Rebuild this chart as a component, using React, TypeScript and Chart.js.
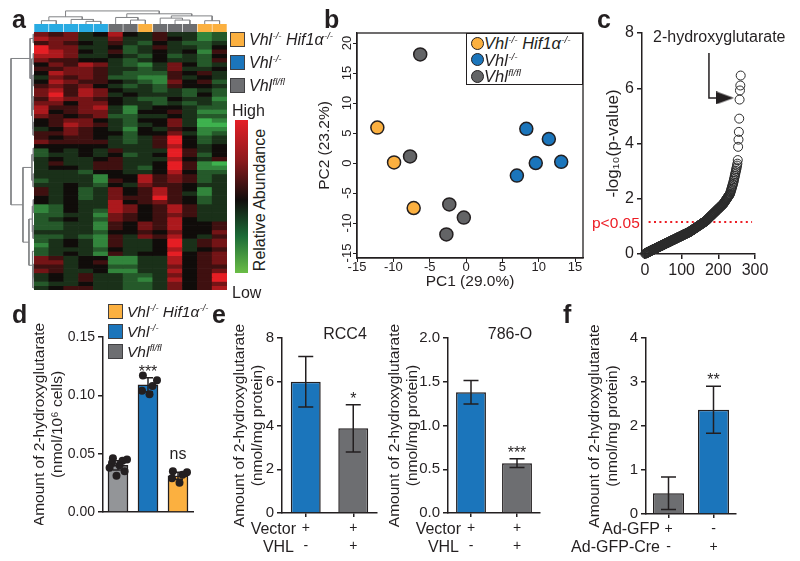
import React, { useEffect, useRef } from 'react';
import { Chart, registerables } from 'chart.js';

Chart.register(...registerables);

const W = 800;
const H = 561;
const FONT = "'Liberation Sans', Arial, Helvetica, sans-serif";
Chart.defaults.font.family = FONT;
Chart.defaults.color = '#231F20';

const INK = '#231F20';
const BLUE = '#1B75BB';
const ORANGE = '#FBB040';
const GRAY = '#6D6E71';
const GRAY_LIGHT = '#939598';
const PCA_GRAY = '#636466';
const CYAN = '#29ABE2';
const RED = '#ED1C24';
const DENDRO = '#808285';

/* ---------------- panel a: heat map ---------------- */
const sampleGroups = [
  'Vhl-/-', 'Vhl-/-', 'Vhl-/-', 'Vhl-/-', 'Vhl-/-',
  'Vhl fl/fl', 'Vhl fl/fl', 'Vhl-/- Hif1α-/-',
  'Vhl fl/fl', 'Vhl fl/fl', 'Vhl fl/fl',
  'Vhl-/- Hif1α-/-', 'Vhl-/- Hif1α-/-',
];
const groupColors: Record<string, string> = {
  'Vhl-/-': CYAN,
  'Vhl fl/fl': GRAY,
  'Vhl-/- Hif1α-/-': ORANGE,
};

// relative abundance (-4 = low/green, +4 = high/red), one row per metabolite block
const heatRows: number[][] = [
  [2, 1, 2, -1, 0, 3, 0, -1, 1, -1, -1, -3, -2],
  [3, 2, 2, -1, -1, 2, -1, -1, 1, 0, -1, -3, -2],
  [1, 2, 1, 0, -1, 1, -1, -2, 0, -1, -2, -2, -1],
  [4, 2, 2, -1, -1, 0, -2, -1, 1, -1, -1, -2, 0],
  [4, 3, 2, 0, -1, 1, -2, -1, 0, -1, 0, -3, 1],
  [3, 3, 2, -1, -1, 0, -1, -2, 0, -2, -1, -2, 0],
  [2, 1, 1, 0, 0, -1, -2, -1, 0, -1, -1, -2, 1],
  [0, 2, 1, 3, 2, -1, -2, -3, -1, 2, 0, -2, -1],
  [1, 1, 2, 2, 1, -1, -1, -2, -1, 2, -1, -1, 0],
  [0, 3, 2, 2, 1, -1, -2, -2, -2, 1, 0, 1, -1],
  [-1, 2, 1, 2, 1, -2, -2, -3, -3, 1, -1, 0, -1],
  [0, 3, 2, 1, 1, 0, -1, -2, -3, 2, 0, 1, -2],
  [1, 2, 1, 2, 0, -1, -2, -1, -2, 1, 0, 0, -1],
  [2, 3, 1, 3, 2, 0, -1, -1, -2, -1, -2, -1, -2],
  [2, 4, 1, 3, 2, -1, 0, -1, -1, -1, -2, 0, -2],
  [1, 3, 2, 2, 1, 0, -1, -2, -2, 0, -1, -1, -3],
  [2, 2, 0, 2, 2, 0, -1, -1, -2, -1, -2, -1, -2],
  [3, 1, 1, 2, 3, -1, -3, -1, 0, 0, -1, -2, -2],
  [3, 0, 1, 2, 2, -1, -3, 0, 0, 1, -1, -3, -3],
  [2, 1, 0, 1, 2, -2, -2, -1, -1, 0, -1, -2, -2],
  [0, 1, 2, 2, 0, -1, -2, 0, 0, 2, -1, -4, -3],
  [0, 1, 3, 2, 1, -1, -2, -1, 0, 2, -1, -4, -4],
  [-1, 0, 2, 1, 0, -1, -3, 0, -1, 1, 0, -3, -3],
  [1, 1, 2, 1, 0, 0, -2, 0, 0, 2, -1, -3, -2],
  [1, 0, 1, 1, 0, -1, -2, -1, 1, 4, 0, -2, -1],
  [2, 1, 1, 1, 1, -1, -2, -1, 1, 4, 0, -2, -1],
  [0, 0, 0, 0, 0, -1, -1, -1, 1, 3, 0, -1, 0],
  [-2, 0, -1, 0, -1, 1, -1, -1, -1, 4, 1, -1, 0],
  [-2, -1, -1, 0, -1, 0, -2, -1, 0, 4, 1, -2, 0],
  [-1, 0, -1, -1, 0, 1, -1, -1, -1, 3, 0, -1, 1],
  [-1, 1, -1, -1, 1, 1, -1, -1, 0, 4, 1, -3, -4],
  [-1, 0, 0, -1, 1, 1, -1, -2, 0, 4, 1, -3, -3],
  [-1, -1, -1, -2, 0, 0, -1, -1, 0, 3, 0, -2, -2],
  [-1, -1, -1, -1, -3, 0, 0, 3, 1, 2, 1, -2, -1],
  [-2, -1, -1, -1, -3, 1, 0, 3, 1, 2, 1, -2, -1],
  [-1, -1, 0, -1, -2, 0, -1, 2, 1, 1, 0, -1, -1],
  [1, -1, 0, -2, -1, 2, 0, 1, 3, 1, 0, -3, -1],
  [1, -1, 0, -2, -1, 2, 0, 1, 3, 1, -1, -3, -1],
  [0, -1, 0, -2, -1, 2, 1, 1, 4, 1, 0, -2, -1],
  [0, -1, 0, -1, -1, 3, 0, 1, 2, 1, 0, -2, -1],
  [-3, -2, 0, -1, -1, 3, 2, 0, 1, 3, 1, -1, -1],
  [-3, -2, 0, -1, -2, 3, 2, 0, 1, 3, 1, -1, -1],
  [-2, -2, -1, -1, -3, 2, 1, 0, 1, 2, 1, -1, -1],
  [-2, -1, 0, -1, -2, 2, 1, 0, 1, 3, 0, -1, -1],
  [-2, -2, -1, -1, -3, 1, 0, 2, 1, 3, 0, 0, 1],
  [-2, -2, -1, -1, -3, 1, 0, 2, 1, 3, 0, 0, 1],
  [-1, -1, -1, -1, -2, 0, 0, 1, 0, 2, 0, 0, 2],
  [-2, -2, -1, -2, -3, 1, -1, 2, 1, 3, 0, -1, 1],
  [-2, -1, 0, -1, -3, 1, -1, -1, 0, 4, -1, 1, 2],
  [-3, -1, 0, -1, -3, 1, -1, -1, 0, 4, -1, 1, 2],
  [-2, -1, -1, -1, -2, 0, -1, -1, 0, 3, -1, 0, 1],
  [-2, -1, 0, -1, -3, 1, -1, 0, 0, 4, 0, 1, 2],
  [2, 1, -1, 0, 0, -3, -3, -1, -1, 3, 0, 1, 2],
  [2, 2, -1, 0, 1, -3, -3, -1, -1, 3, 0, 1, 2],
  [1, 1, -1, 0, 0, -2, -2, -1, -1, 2, 0, 1, 1],
  [2, 1, -1, -1, 0, -3, -3, -1, -1, 3, 0, 1, 2],
  [-1, 0, -1, 1, -1, -1, -2, -2, -1, 2, 0, 1, 4],
  [-1, 0, -1, 1, -1, -1, -2, -3, -1, 3, 0, 1, 4],
  [-2, -1, -1, 0, -1, -1, -2, -2, -1, 2, 0, 1, 2],
  [-1, 0, 1, 1, -1, -1, -2, -2, -1, 2, 0, 1, 3],
];

// column dendrogram: [childA, childB, height]; leaves are columns 0..12
const colMerges: number[][] = [
  [0, 1, 0.25], [3, 4, 0.2], [2, 14, 0.35], [13, 15, 0.55],
  [6, 7, 0.3], [5, 17, 0.5], [11, 12, 0.25], [9, 10, 0.3],
  [8, 20, 0.45], [21, 19, 0.62], [18, 22, 0.78], [16, 23, 1.0],
];
// row dendrogram: leaf positions (in rows) and merges
const rowLeaves = [0.5, 2.5, 5, 7.5, 10, 12.5, 15, 18, 21, 24, 27, 30, 33, 36, 39, 42, 45, 48, 51, 54, 57, 59.5];
const rowMerges: number[][] = [
  [0, 1, 0.03], [2, 3, 0.03], [4, 5, 0.04], [6, 7, 0.03], [8, 9, 0.04],
  [25, 26, 0.06], [24, 27, 0.09], [23, 28, 0.11], [22, 29, 0.17],
  [10, 11, 0.03], [12, 13, 0.04], [31, 32, 0.09],
  [14, 15, 0.03], [16, 17, 0.04], [34, 35, 0.07],
  [19, 20, 0.03], [37, 21, 0.05], [18, 38, 0.07], [36, 39, 0.22],
  [33, 40, 0.48], [30, 41, 1.0],
];

/* ---------------- panel b: PCA ---------------- */
const pcaKoHifX = [-12.2, -9.9, -7.2];
const pcaKoHifY = [5.9, 0.1, -7.5];
const pcaKoX = [8.3, 11.4, 9.6, 13.1, 7.0];
const pcaKoY = [5.7, 4.0, 0.0, 0.2, -2.1];
const pcaFlX = [-6.3, -7.7, -2.3, -0.3, -2.7];
const pcaFlY = [18.1, 1.1, -6.9, -9.1, -11.9];
const pcaXTicks = [-15, -10, -5, 0, 5, 10, 15];
const pcaYTicks = [-15, -10, -5, 0, 5, 10, 15, 20];

/* ---------------- panel c: ranked p-values ---------------- */
const pValues = [
  0.01, 0.02, 0.03, 0.04, 0.04, 0.05, 0.06, 0.06, 0.07, 0.08,
  0.08, 0.09, 0.10, 0.10, 0.11, 0.12, 0.12, 0.13, 0.14, 0.14,
  0.15, 0.16, 0.16, 0.17, 0.18, 0.18, 0.19, 0.19, 0.20, 0.21,
  0.21, 0.22, 0.23, 0.23, 0.24, 0.25, 0.25, 0.26, 0.27, 0.27,
  0.28, 0.29, 0.29, 0.30, 0.30, 0.31, 0.32, 0.32, 0.33, 0.34,
  0.34, 0.35, 0.36, 0.36, 0.37, 0.38, 0.38, 0.39, 0.40, 0.40,
  0.41, 0.41, 0.42, 0.43, 0.43, 0.44, 0.45, 0.45, 0.46, 0.47,
  0.47, 0.48, 0.49, 0.49, 0.50, 0.51, 0.51, 0.52, 0.52, 0.53,
  0.54, 0.54, 0.55, 0.56, 0.56, 0.57, 0.58, 0.58, 0.59, 0.60,
  0.60, 0.61, 0.62, 0.62, 0.63, 0.63, 0.64, 0.65, 0.65, 0.66,
  0.67, 0.67, 0.68, 0.69, 0.69, 0.70, 0.71, 0.71, 0.72, 0.73,
  0.73, 0.74, 0.74, 0.75, 0.76, 0.76, 0.77, 0.78, 0.78, 0.79,
  0.80, 0.80, 0.81, 0.82, 0.83, 0.84, 0.85, 0.86, 0.86, 0.87,
  0.88, 0.89, 0.90, 0.91, 0.92, 0.93, 0.94, 0.95, 0.95, 0.96,
  0.97, 0.98, 0.99, 1.00, 1.01, 1.02, 1.03, 1.04, 1.04, 1.05,
  1.06, 1.07, 1.08, 1.09, 1.10, 1.11, 1.12, 1.13, 1.13, 1.14,
  1.15, 1.16, 1.17, 1.18, 1.19, 1.20, 1.21, 1.22, 1.23, 1.25,
  1.26, 1.27, 1.29, 1.30, 1.31, 1.33, 1.34, 1.35, 1.37, 1.38,
  1.39, 1.40, 1.42, 1.43, 1.44, 1.46, 1.47, 1.48, 1.50, 1.51,
  1.52, 1.53, 1.55, 1.56, 1.57, 1.59, 1.60, 1.61, 1.63, 1.64,
  1.65, 1.66, 1.68, 1.69, 1.70, 1.72, 1.73, 1.74, 1.76, 1.77,
  1.78, 1.79, 1.81, 1.82, 1.84, 1.86, 1.88, 1.90, 1.92, 1.94,
  1.96, 1.98, 2.00, 2.02, 2.04, 2.06, 2.08, 2.10, 2.12, 2.14,
  2.16, 2.18, 2.23, 2.27, 2.32, 2.36, 2.41, 2.45, 2.50, 2.54,
  2.59, 2.65, 2.71, 2.77, 2.83, 2.89, 2.95, 3.01, 3.07, 3.13,
  3.20, 3.27, 3.40, 3.88, 4.14, 4.42, 4.90, 5.59, 5.92, 6.10, 6.46,
];
const cXTicks = [0, 100, 200, 300];
const cYTicks = ['0', '2', '4', '6', '8'];
const sigLevel = 1.16;
const sigLineX = [10, 292];
const arrowX = [174.5, 174.5, 196];
const arrowY = [7.28, 5.65, 5.65];
const arrowHeadAt = { x: 218, y: 5.65 };

/* ---------------- panel d ---------------- */
const dGroups = ['Vhl fl/fl', 'Vhl-/-', 'Vhl-/- Hif1α-/-'];
const dMeans = [0.040, 0.109, 0.031];
const dSd = [0.004, 0.006, 0.003];
const dDotsFl = [0.046, 0.045, 0.044, 0.042, 0.040, 0.038, 0.035, 0.031];
const dDotsKo = [0.117, 0.113, 0.108, 0.104, 0.101];
const dDotsKoHif = [0.035, 0.034, 0.032, 0.029, 0.025];
const dStars = ['', '***', 'ns'];
const dYTicks = ['0.00', '0.05', '0.10', '0.15'];

/* ---------------- panel e ---------------- */
const eRowNames = ['Vector', 'VHL'];
const rcc4Labels = [['+', '-'], ['+', '+']];
const rcc4Means = [6.0, 3.87];
const rcc4Sd = [1.15, 1.08];
const rcc4Stars = ['', '*'];
const rcc4YTicks = ['0', '2', '4', '6', '8'];
const o786Labels = [['+', '-'], ['+', '+']];
const o786Means = [1.38, 0.57];
const o786Sd = [0.135, 0.05];
const o786Stars = ['', '***'];
const o786YTicks = ['0.0', '0.5', '1.0', '1.5', '2.0'];

/* ---------------- panel f ---------------- */
const fRowNames = ['Ad-GFP', 'Ad-GFP-Cre'];
const fLabels = [['+', '-'], ['-', '+']];
const fMeans = [0.47, 2.37];
const fSd = [0.37, 0.535];
const fStars = ['', '**'];
const fYTicks = ['0', '1', '2', '3', '4'];

const TITLE_CELLS = ['Amount of 2-hydroxyglutarate', '(nmol/10⁶ cells)'];
const TITLE_PROTEIN = ['Amount of 2-hydroxyglutarate', '(nmol/mg protein)'];

/* ---------------- helpers ---------------- */
const DOT_JITTER = [-0.17, 0.3, 0.15, -0.2, 0.05, -0.28, 0.22, -0.05];

function heatColor(v: number): string {
  const t = Math.pow(Math.min(Math.abs(v) / 4, 1), 1.1);
  const lo = [16, 12, 10];
  const hi = v >= 0 ? [230, 30, 36] : [62, 178, 78];
  const c = lo.map((b, i) => Math.round(b + (hi[i] - b) * t));
  return `rgb(${c[0]},${c[1]},${c[2]})`;
}

type Box = { x: number; y: number; w: number; h: number };
type Area = { l: number; t: number; r: number; b: number };

function geom(c: Box, a: Area, scaleLeft: number, axisBottom: number) {
  return {
    padding: { left: scaleLeft - c.x, top: a.t - c.y, right: c.x + c.w - a.r, bottom: c.y + c.h - axisBottom },
    yWidth: a.l - scaleLeft,
    xHeight: axisBottom - a.b,
  };
}

function baseOptions(padding: any) {
  return {
    responsive: false,
    maintainAspectRatio: false,
    animation: false,
    devicePixelRatio: 1,
    events: [],
    layout: { padding, autoPadding: false },
    plugins: { legend: { display: false }, tooltip: { enabled: false } },
  };
}

const fixedTicks = (values: number[]) => (s: any) => { s.ticks = values.map((value) => ({ value })); };

function dendroDatasets(leafPos: number[], merges: number[][], horizontal: boolean) {
  const pos = [...leafPos];
  const ht = leafPos.map(() => 0);
  const sets: any[] = [];
  merges.forEach(([a, b, h]) => {
    const pts = [[pos[a], ht[a]], [pos[a], h], [pos[b], h], [pos[b], ht[b]]];
    sets.push({
      data: pts.map(([p, hh]) => (horizontal ? { x: p, y: hh } : { x: hh, y: p })),
      showLine: true,
      pointRadius: 0,
      borderColor: DENDRO,
      borderWidth: 1,
      tension: 0,
    });
    pos.push((pos[a] + pos[b]) / 2);
    ht.push(h);
  });
  return sets;
}

function gpY(min: number, max: number, step: number, labels: string[], width: number, title: any, tickSize: number, titleSize = 15.5, titleLH = 1.15) {
  return {
    type: 'linear',
    min,
    max,
    afterFit: (s: any) => { s.width = width; },
    ticks: { stepSize: step, includeBounds: false, font: { size: tickSize }, color: INK, padding: 3, callback: (_v: any, i: number) => labels[i] },
    grid: { drawOnChartArea: false, drawTicks: true, tickLength: 5, color: INK, lineWidth: 1.5 },
    border: { display: true, color: INK, width: 1.5 },
    title: title
      ? { display: true, text: title, color: INK, font: { size: titleSize, lineHeight: titleLH }, padding: { top: 4, bottom: 4 } }
      : { display: false },
  };
}

function barAnnotations(means: number[], sd: number[], stars: string[], gaps: number[], cap: number, starSize: number) {
  return {
    id: 'barAnnotations',
    afterDatasetsDraw(chart: any) {
      const ctx = chart.ctx;
      const ys = chart.scales.y;
      const meta = chart.getDatasetMeta(0);
      ctx.save();
      ctx.strokeStyle = INK;
      ctx.fillStyle = INK;
      ctx.lineWidth = 1.5;
      ctx.font = `${starSize}px ${FONT}`;
      ctx.textAlign = 'center';
      ctx.textBaseline = 'alphabetic';
      meta.data.forEach((bar: any, i: number) => {
        const x = bar.x;
        const yLo = ys.getPixelForValue(means[i] - sd[i]);
        const yHi = ys.getPixelForValue(means[i] + sd[i]);
        const c = cap / 2;
        ctx.beginPath();
        ctx.moveTo(x, yLo); ctx.lineTo(x, yHi);
        ctx.moveTo(x - c, yHi); ctx.lineTo(x + c, yHi);
        ctx.moveTo(x - c, yLo); ctx.lineTo(x + c, yLo);
        ctx.stroke();
        if (stars[i]) ctx.fillText(stars[i], x, yHi - gaps[i]);
      });
      ctx.restore();
    },
  };
}

function rotatedYTickLabels(size: number, offset: number) {
  return {
    id: 'rotatedYTickLabels',
    afterDraw(chart: any) {
      const ys = chart.scales.y;
      const ctx = chart.ctx;
      ctx.save();
      ctx.font = `${size}px ${FONT}`;
      ctx.fillStyle = INK;
      ctx.textAlign = 'center';
      ctx.textBaseline = 'middle';
      ys.ticks.forEach((t: any) => {
        const py = ys.getPixelForValue(t.value);
        ctx.save();
        ctx.translate(chart.chartArea.left - offset, py);
        ctx.rotate(-Math.PI / 2);
        ctx.fillText(String(t.value), 0, 0);
        ctx.restore();
      });
      ctx.restore();
    },
  };
}

const framePlugin = {
  id: 'frame',
  afterDraw(chart: any) {
    const { left, top, right, bottom } = chart.chartArea;
    const ctx = chart.ctx;
    ctx.save();
    ctx.strokeStyle = INK;
    ctx.lineWidth = 1.3;
    ctx.strokeRect(left, top, right - left, bottom - top);
    ctx.restore();
  },
};

function arrowHeadImage() {
  const c = document.createElement('canvas');
  c.width = 18;
  c.height = 13;
  const x = c.getContext('2d');
  if (x) {
    x.fillStyle = INK;
    x.beginPath();
    x.moveTo(0, 0);
    x.lineTo(18, 6.5);
    x.lineTo(0, 13);
    x.closePath();
    x.fill();
  }
  return c;
}

/* ---------------- chart configs ---------------- */
const HEAT_BOX: Box = { x: 34, y: 32, w: 193, h: 258 };
const ANNOT_BOX: Box = { x: 34, y: 24, w: 193, h: 8 };
const TOPD_BOX: Box = { x: 34, y: 7, w: 193, h: 17 };
const LEFTD_BOX: Box = { x: 8, y: 32, w: 26, h: 258 };
const B_BOX: Box = { x: 300, y: 20, w: 295, h: 276 };
const C_BOX: Box = { x: 590, y: 20, w: 205, h: 270 };
const D_BOX: Box = { x: 20, y: 320, w: 185, h: 205 };
const E1_BOX: Box = { x: 220, y: 320, w: 162, h: 241 };
const E2_BOX: Box = { x: 375, y: 320, w: 170, h: 241 };
const F_BOX: Box = { x: 575, y: 320, w: 170, h: 241 };

function heatmapConfig() {
  return {
    type: 'bar',
    data: {
      labels: sampleGroups,
      datasets: heatRows.map((row) => ({
        data: row.map(() => 1),
        backgroundColor: row.map(heatColor),
        borderWidth: 0,
        barPercentage: 1,
        categoryPercentage: 1,
        stack: 'rows',
      })),
    },
    options: {
      ...baseOptions(0),
      scales: {
        x: { display: false, stacked: true },
        y: { display: false, stacked: true, reverse: true, min: 0, max: heatRows.length },
      },
    },
  };
}

function annotationConfig() {
  return {
    type: 'bar',
    data: {
      labels: sampleGroups,
      datasets: [{
        data: sampleGroups.map(() => 1),
        backgroundColor: sampleGroups.map((g) => groupColors[g]),
        borderColor: 'rgba(255,255,255,0.85)',
        borderWidth: { left: 0.6, right: 0.6, top: 0, bottom: 0 },
        borderSkipped: false,
        barPercentage: 1,
        categoryPercentage: 1,
      }],
    },
    options: {
      ...baseOptions(0),
      scales: { x: { display: false }, y: { display: false, min: 0, max: 1 } },
    },
  };
}

function topDendroConfig() {
  return {
    type: 'scatter',
    data: { datasets: dendroDatasets(sampleGroups.map((_g, i) => i + 0.5), colMerges, true) },
    options: {
      ...baseOptions(0),
      scales: {
        x: { type: 'linear', display: false, min: 0, max: sampleGroups.length },
        y: { type: 'linear', display: false, min: 0, max: 1.3 },
      },
    },
  };
}

function leftDendroConfig() {
  return {
    type: 'scatter',
    data: { datasets: dendroDatasets(rowLeaves, rowMerges, false) },
    options: {
      ...baseOptions(0),
      scales: {
        x: { type: 'linear', display: false, min: 0, max: 1.13, reverse: true },
        y: { type: 'linear', display: false, min: 0, max: heatRows.length, reverse: true },
      },
    },
  };
}

const zip = (xs: number[], ys: number[]) => xs.map((x, i) => ({ x, y: ys[i] }));

function pcaConfig() {
  const g = geom(B_BOX, { l: 357, t: 33, r: 583, b: 258 }, 311.7, 295.3);
  const pt = { pointRadius: 6.5, borderColor: INK, borderWidth: 1.5 };
  return {
    type: 'scatter',
    data: {
      datasets: [
        { label: 'Vhl-/- Hif1α-/-', data: zip(pcaKoHifX, pcaKoHifY), backgroundColor: ORANGE, ...pt },
        { label: 'Vhl-/-', data: zip(pcaKoX, pcaKoY), backgroundColor: BLUE, ...pt },
        { label: 'Vhl fl/fl', data: zip(pcaFlX, pcaFlY), backgroundColor: PCA_GRAY, ...pt },
      ],
    },
    options: {
      ...baseOptions(g.padding),
      clip: false,
      scales: {
        x: {
          type: 'linear', min: -15, max: 16.1,
          afterFit: (s: any) => { s.height = g.xHeight; },
          afterBuildTicks: fixedTicks(pcaXTicks),
          ticks: { font: { size: 13 }, color: INK, padding: -2, maxRotation: 0, autoSkip: false },
          grid: { drawOnChartArea: false, drawTicks: true, tickLength: 4, color: INK, lineWidth: 1 },
          border: { display: true, color: INK, width: 1.3 },
          title: { display: true, text: 'PC1 (29.0%)', color: INK, font: { size: 15.5 }, padding: { top: 0, bottom: 4 } },
        },
        y: {
          type: 'linear', min: -15.83, max: 21.67,
          afterFit: (s: any) => { s.width = g.yWidth; },
          afterBuildTicks: fixedTicks(pcaYTicks),
          ticks: { display: false },
          grid: { drawOnChartArea: false, drawTicks: true, tickLength: 4, color: INK, lineWidth: 1 },
          border: { display: true, color: INK, width: 1.3 },
          title: { display: true, text: 'PC2 (23.2%)', color: INK, font: { size: 15.5 }, padding: { top: 4, bottom: 4 } },
        },
      },
    },
    plugins: [rotatedYTickLabels(13, 10), framePlugin],
  };
}

function volcanoConfig() {
  const g = geom(C_BOX, { l: 642, t: 33, r: 755, b: 254 }, 598.8, 290);
  return {
    type: 'scatter',
    data: {
      datasets: [
        {
          data: pValues.map((v, i) => ({ x: i + 1, y: v })),
          pointRadius: 4.5,
          borderWidth: 1,
          borderColor: '#2a2a2a',
          backgroundColor: 'rgba(0,0,0,0)',
        },
        {
          type: 'line',
          data: sigLineX.map((x) => ({ x, y: sigLevel })),
          borderColor: RED,
          borderWidth: 2,
          borderDash: [2, 3.4],
          pointRadius: 0,
        },
        {
          type: 'line',
          data: zip(arrowX, arrowY),
          borderColor: INK,
          borderWidth: 1.5,
          pointRadius: 0,
        },
        {
          data: [arrowHeadAt],
          pointStyle: arrowHeadImage(),
          pointRadius: 9,
        },
      ],
    },
    options: {
      ...baseOptions(g.padding),
      clip: false,
      scales: {
        x: {
          type: 'linear', min: -8, max: 300,
          afterFit: (s: any) => { s.height = g.xHeight; },
          afterBuildTicks: fixedTicks(cXTicks),
          ticks: { font: { size: 16 }, color: INK, padding: 2, maxRotation: 0, autoSkip: false },
          grid: { drawOnChartArea: false, drawTicks: true, tickLength: 5, color: INK, lineWidth: 1.5 },
          border: { display: true, color: INK, width: 1.5 },
        },
        y: gpY(0, 8, 2, cYTicks, g.yWidth, '-log₁₀(p-value)', 16, 17, 1.2),
      },
    },
  };
}

function dConfig() {
  const g = geom(D_BOX, { l: 103, t: 337, r: 193, b: 512 }, 27.1, 520);
  const dots: any[] = [];
  [dDotsFl, dDotsKo, dDotsKoHif].forEach((arr, gi) =>
    arr.forEach((v, k) => dots.push({ x: gi + DOT_JITTER[k % DOT_JITTER.length], y: v })),
  );
  return {
    type: 'bar',
    data: {
      datasets: [
        {
          type: 'bar',
          label: 'mean',
          data: dMeans.map((m, i) => ({ x: i, y: m })),
          backgroundColor: [GRAY_LIGHT, BLUE, ORANGE],
          borderColor: INK,
          borderWidth: 1.5,
          barThickness: 20,
          order: 2,
        },
        {
          type: 'scatter',
          label: 'replicates',
          data: dots,
          pointRadius: 4,
          backgroundColor: INK,
          borderColor: INK,
          borderWidth: 0,
          order: 1,
        },
      ],
    },
    options: {
      ...baseOptions(g.padding),
      scales: {
        x: {
          type: 'linear', min: -0.5, max: 2.5, offset: false,
          afterFit: (s: any) => { s.height = g.xHeight; },
          ticks: { display: false },
          grid: { display: false, offset: false },
          border: { display: true, color: INK, width: 1.5 },
        },
        y: gpY(0, 0.15, 0.05, dYTicks, g.yWidth, TITLE_CELLS, 14),
      },
    },
    plugins: [barAnnotations(dMeans, dSd, dStars, [1, 1, 13], 10, 16)],
  };
}

function gpBarConfig(box: Box, area: Area, scaleLeft: number, labels: any[], means: number[], sd: number[], colors: string[], stars: string[], yMax: number, yStep: number, yTicks: string[], barPct: number) {
  const g = geom(box, area, scaleLeft, 556);
  return {
    type: 'bar',
    data: {
      labels,
      datasets: [{
        data: means,
        backgroundColor: colors,
        borderColor: INK,
        borderWidth: 1.5,
        barPercentage: barPct,
        categoryPercentage: 1,
      }],
    },
    options: {
      ...baseOptions(g.padding),
      scales: {
        x: {
          type: 'category',
          offset: true,
          afterFit: (s: any) => { s.height = g.xHeight; },
          ticks: { font: { size: 14, lineHeight: 1.3 }, color: INK, padding: 2, maxRotation: 0, autoSkip: false },
          grid: { offset: false, drawOnChartArea: false, drawTicks: true, tickLength: 4, color: INK, lineWidth: 1.5 },
          border: { display: true, color: INK, width: 1.5 },
        },
        y: gpY(0, yMax, yStep, yTicks, g.yWidth, TITLE_PROTEIN, 15),
      },
    },
    plugins: [barAnnotations(means, sd, stars, [1, 1], 15, 16)],
  };
}

const SPECS: { box: Box; make: () => any }[] = [
  { box: TOPD_BOX, make: topDendroConfig },
  { box: ANNOT_BOX, make: annotationConfig },
  { box: HEAT_BOX, make: heatmapConfig },
  { box: LEFTD_BOX, make: leftDendroConfig },
  { box: B_BOX, make: pcaConfig },
  { box: C_BOX, make: volcanoConfig },
  { box: D_BOX, make: dConfig },
  {
    box: E1_BOX,
    make: () => gpBarConfig(E1_BOX, { l: 282, t: 338, r: 377, b: 513 }, 227.1, rcc4Labels, rcc4Means, rcc4Sd, [BLUE, GRAY], rcc4Stars, 8, 2, rcc4YTicks, 0.63),
  },
  {
    box: E2_BOX,
    make: () => gpBarConfig(E2_BOX, { l: 448, t: 338, r: 540, b: 513 }, 382.1, o786Labels, o786Means, o786Sd, [BLUE, GRAY], o786Stars, 2, 0.5, o786YTicks, 0.65),
  },
  {
    box: F_BOX,
    make: () => gpBarConfig(F_BOX, { l: 646, t: 338, r: 736, b: 514 }, 582.1, fLabels, fMeans, fSd, [GRAY, BLUE], fStars, 4, 1, fYTicks, 0.69),
  },
];

/* ---------------- text helpers ---------------- */
type TP = {
  x: number; y: number; size: number; align?: 'left' | 'right' | 'center';
  color?: string; bold?: boolean; italic?: boolean; rotate?: boolean; children: any;
};
function Txt({ x, y, size, align = 'left', color = INK, bold, italic, rotate, children }: TP) {
  const lh = Math.round(size * 1.2);
  const style: any = {
    position: 'absolute',
    top: y - lh / 2,
    fontSize: size,
    lineHeight: lh + 'px',
    whiteSpace: 'nowrap',
    color,
    fontWeight: bold ? 700 : 400,
    fontStyle: italic ? 'italic' : 'normal',
  };
  if (rotate) {
    style.left = x;
    style.top = y;
    style.transform = 'translate(-50%, -50%) rotate(-90deg)';
  } else if (align === 'left') {
    style.left = x;
  } else if (align === 'right') {
    style.right = W - x;
  } else {
    style.left = x;
    style.transform = 'translateX(-50%)';
  }
  return <div style={style}>{children}</div>;
}

const Sup = ({ children }: { children: any }) => (
  <span style={{ fontSize: '0.6em', position: 'relative', top: '-0.6em', marginLeft: '0.04em' }}>{children}</span>
);

function Geno({ name }: { name: string }) {
  if (name === 'Vhl-/- Hif1α-/-') return <span>Vhl<Sup>-/-</Sup> Hif1α<Sup>-/-</Sup></span>;
  if (name === 'Vhl-/-') return <span>Vhl<Sup>-/-</Sup></span>;
  return <span>Vhl<Sup>fl/fl</Sup></span>;
}

const legendOrder = ['Vhl-/- Hif1α-/-', 'Vhl-/-', 'Vhl fl/fl'];
const legendColors: Record<string, string> = { 'Vhl-/- Hif1α-/-': ORANGE, 'Vhl-/-': BLUE, 'Vhl fl/fl': GRAY };

function SquareLegend({ x, y, gap, size, font }: { x: number; y: number; gap: number; size: number; font: number }) {
  return (
    <>
      {legendOrder.map((name, i) => (
        <React.Fragment key={name}>
          <div style={{
            position: 'absolute', left: x, top: y + i * gap, width: size, height: size,
            boxSizing: 'border-box', border: '1.5px solid #414042', background: legendColors[name],
          }} />
          <Txt x={x + size + 4} y={y + i * gap + size / 2} size={font} italic>
            <Geno name={name} />
          </Txt>
        </React.Fragment>
      ))}
    </>
  );
}

export default function App() {
  const refs = useRef<(HTMLCanvasElement | null)[]>([]);

  useEffect(() => {
    const charts = SPECS.map((s, i) => {
      const el = refs.current[i];
      return el ? new Chart(el, s.make()) : null;
    });
    return () => charts.forEach((c) => c && c.destroy());
  }, []);

  const pcaColors = [ORANGE, BLUE, PCA_GRAY];

  return (
    <div style={{
      position: 'absolute', left: 0, top: 0, width: W, height: H, overflow: 'hidden',
      background: '#ffffff', fontFamily: FONT, color: INK,
    }}>
      {SPECS.map((s, i) => (
        <canvas
          key={i}
          ref={(el) => { refs.current[i] = el; }}
          width={s.box.w}
          height={s.box.h}
          style={{ position: 'absolute', left: s.box.x, top: s.box.y, width: s.box.w, height: s.box.h }}
        />
      ))}

      {/* panel letters */}
      <Txt x={12} y={19.3} size={25} bold>a</Txt>
      <Txt x={324} y={19.3} size={25} bold>b</Txt>
      <Txt x={597} y={19.3} size={25} bold>c</Txt>
      <Txt x={12} y={314.3} size={25} bold>d</Txt>
      <Txt x={212} y={314.3} size={25} bold>e</Txt>
      <Txt x={563} y={314.3} size={25} bold>f</Txt>

      {/* panel a legend and colour key */}
      <SquareLegend x={230} y={32} gap={23} size={15} font={16} />
      <Txt x={232} y={110} size={16}>High</Txt>
      <div style={{
        position: 'absolute', left: 235, top: 120, width: 13, height: 153,
        background: 'linear-gradient(to bottom, #E41E26 0%, #8E1A1D 26%, #120D0C 52%, #1C6B37 76%, #6ABD46 100%)',
      }} />
      <Txt x={259} y={200} size={16} rotate>Relative Abundance</Txt>
      <Txt x={232} y={292} size={16}>Low</Txt>

      {/* panel b legend */}
      <div style={{
        position: 'absolute', left: 466, top: 33, width: 117, height: 52,
        boxSizing: 'border-box', border: '1.5px solid #231F20', background: '#fff',
      }} />
      {legendOrder.map((name, i) => (
        <React.Fragment key={name}>
          <div style={{
            position: 'absolute', left: 470.5, top: 36.5 + i * 16.5, width: 13, height: 13, borderRadius: '50%',
            boxSizing: 'border-box', border: '1.5px solid #231F20', background: pcaColors[i],
          }} />
          <Txt x={484} y={43 + i * 16.5} size={16.5} italic><Geno name={name} /></Txt>
        </React.Fragment>
      ))}

      {/* panel c annotations */}
      <Txt x={653} y={36} size={16}>2-hydroxyglutarate</Txt>
      <Txt x={592} y={222} size={15.5} color={RED}>p&lt;0.05</Txt>

      {/* panel d legend */}
      <SquareLegend x={108} y={304} gap={20} size={15} font={15.5} />

      {/* panel e */}
      <Txt x={345} y={333} size={16} align="center">RCC4</Txt>
      <Txt x={510} y={333} size={16} align="center">786-O</Txt>
      <Txt x={296} y={528} size={16} align="right">{eRowNames[0]}</Txt>
      <Txt x={294} y={546} size={16} align="right">{eRowNames[1]}</Txt>
      <Txt x={461} y={528} size={16} align="right">{eRowNames[0]}</Txt>
      <Txt x={459} y={546} size={16} align="right">{eRowNames[1]}</Txt>

      {/* panel f */}
      <Txt x={660} y={528} size={16} align="right">{fRowNames[0]}</Txt>
      <Txt x={660} y={546} size={16} align="right">{fRowNames[1]}</Txt>
    </div>
  );
}
